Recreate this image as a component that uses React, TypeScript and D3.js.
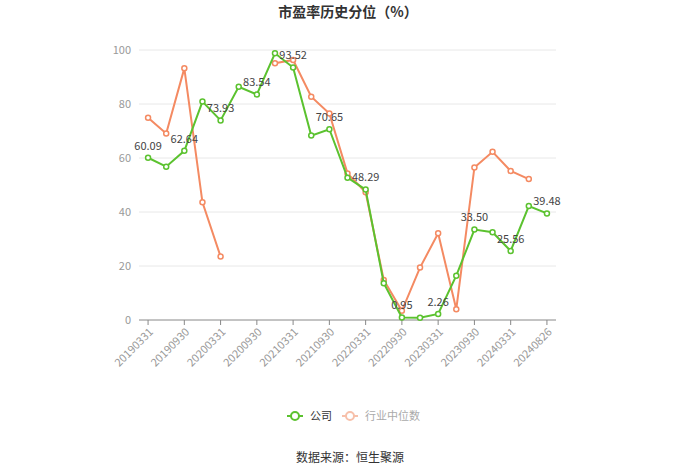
import * as d3 from "d3";
import { useEffect, useRef } from "react";

// quarterly report dates
const dates = [
  "20190331", "20190630", "20190930", "20191231", "20200331", "20200630",
  "20200930", "20201231", "20210331", "20210630", "20210930", "20211231",
  "20220331", "20220630", "20220930", "20221231", "20230331", "20230630",
  "20230930", "20231231", "20240331", "20240630", "20240826",
];

const company = [
  60.09, 56.8, 62.64, 80.9, 73.93, 86.4, 83.54, 98.8, 93.52, 68.3, 70.65, 52.7,
  48.29, 13.6, 0.95, 0.8, 2.26, 16.4, 33.5, 32.5, 25.56, 42.2, 39.48,
];

const industry: (number | null)[] = [
  74.9, 69.1, 93.2, 43.6, 23.5, null, null, 95.1, 96.3, 82.7, 76.5, 54.3,
  47.3, 14.8, 3.4, 19.4, 32.1, 4.0, 56.5, 62.3, 55.2, 52.2, null,
];

const yTicks = [0, 20, 40, 60, 80, 100];

const GREEN = "#5bc22f";
const ORANGE = "#f48a62";
const FONT = "'Noto Sans CJK SC', 'Noto Sans', sans-serif";

export default function App() {
  const gRef = useRef<SVGGElement>(null);

  const width = 700;
  const height = 474;
  const margin = { top: 50, right: 144, bottom: 154, left: 139 };
  const innerWidth = width - margin.left - margin.right;
  const innerHeight = height - margin.top - margin.bottom;

  useEffect(() => {
    const g = d3.select(gRef.current);
    g.selectAll("*").remove();

    const x = d3.scaleBand<string>()
      .domain(dates)
      .range([0, innerWidth]);
    const cx = (d: string) => x(d)! + x.bandwidth() / 2;

    const y = d3.scaleLinear().domain([0, 100]).range([innerHeight, 0]);

    // grid
    g.append("g")
      .selectAll("line")
      .data(yTicks.filter(t => t > 0))
      .join("line")
      .attr("x1", 0)
      .attr("x2", innerWidth)
      .attr("y1", d => y(d))
      .attr("y2", d => y(d))
      .attr("stroke", "#e8e8e8");

    // y axis labels
    g.append("g")
      .selectAll("text")
      .data(yTicks)
      .join("text")
      .attr("x", -8)
      .attr("y", d => y(d))
      .attr("dy", "0.35em")
      .attr("text-anchor", "end")
      .attr("fill", "#999")
      .attr("font-size", 11)
      .attr("font-family", FONT)
      .text(d => d);

    // x axis
    const tickDates = dates.filter((_, i) => i % 2 === 0);
    const xAxis = g.append("g").attr("transform", `translate(0,${innerHeight})`);
    xAxis.append("line")
      .attr("x1", 0)
      .attr("x2", innerWidth)
      .attr("stroke", "#888");
    xAxis.append("g")
      .selectAll("line")
      .data(tickDates)
      .join("line")
      .attr("x1", d => cx(d))
      .attr("x2", d => cx(d))
      .attr("y1", 0)
      .attr("y2", 5)
      .attr("stroke", "#888");
    xAxis.append("g")
      .selectAll("text")
      .data(tickDates)
      .join("text")
      .attr("transform", d => `translate(${cx(d) + 3},${10}) rotate(-45)`)
      .attr("text-anchor", "end")
      .attr("dy", "0.35em")
      .attr("fill", "#999")
      .attr("font-size", 11)
      .attr("font-family", FONT)
      .text(d => d);

    // lines
    const line = d3.line<number | null>()
      .defined(d => d !== null)
      .x((_, i) => cx(dates[i]))
      .y(d => y(d as number));

    const drawSeries = (vals: (number | null)[], color: string) => {
      g.append("path")
        .datum(vals)
        .attr("d", line)
        .attr("fill", "none")
        .attr("stroke", color)
        .attr("stroke-width", 2);
      g.append("g")
        .selectAll("circle")
        .data(vals.map((v, i) => ({ v, i })).filter(d => d.v !== null))
        .join("circle")
        .attr("cx", d => cx(dates[d.i]))
        .attr("cy", d => y(d.v as number))
        .attr("r", 2.5)
        .attr("fill", "#fff")
        .attr("stroke", color)
        .attr("stroke-width", 1.5);
    };

    drawSeries(industry, ORANGE);
    drawSeries(company, GREEN);

    // labels on every other company point
    g.append("g")
      .selectAll("text")
      .data(company.map((v, i) => ({ v, i })).filter(d => d.i % 2 === 0))
      .join("text")
      .attr("x", d => cx(dates[d.i]))
      .attr("y", d => y(d.v) - 12)
      .attr("dy", "0.35em")
      .attr("text-anchor", "middle")
      .attr("fill", "#444")
      .attr("font-size", 11)
      .attr("font-family", FONT)
      .text(d => d.v.toFixed(2));
  }, [innerHeight, innerWidth]);

  return (
    <svg
      width={width}
      height={height}
      style={{ position: "absolute", left: 0, top: 0, background: "#fff" }}
    >
      <text
        x={348}
        y={12}
        dy="0.35em"
        textAnchor="middle"
        fontSize={14}
        fontWeight="bold"
        fill="#333"
        fontFamily={FONT}
      >
        市盈率历史分位（%）
      </text>
      <g ref={gRef} transform={`translate(${margin.left},${margin.top})`} />
      {/* legend */}
      <g transform="translate(0,416)" fontFamily={FONT} fontSize={11}>
        <line x1={287} x2={303} y1={0} y2={0} stroke={GREEN} strokeWidth={2} />
        <circle cx={295} cy={0} r={4} fill="#fff" stroke={GREEN} strokeWidth={2} />
        <text x={310} y={0} dy="0.35em" fill="#333">公司</text>
        <line x1={342} x2={358} y1={0} y2={0} stroke="#f7c0aa" strokeWidth={2} />
        <circle cx={350} cy={0} r={4} fill="#fff" stroke="#f7c0aa" strokeWidth={2} />
        <text x={365} y={0} dy="0.35em" fill="#aaa">行业中位数</text>
      </g>
      <text
        x={350}
        y={458}
        dy="0.35em"
        textAnchor="middle"
        fontSize={12}
        fill="#333"
        fontFamily={FONT}
      >
        数据来源：恒生聚源
      </text>
    </svg>
  );
}
